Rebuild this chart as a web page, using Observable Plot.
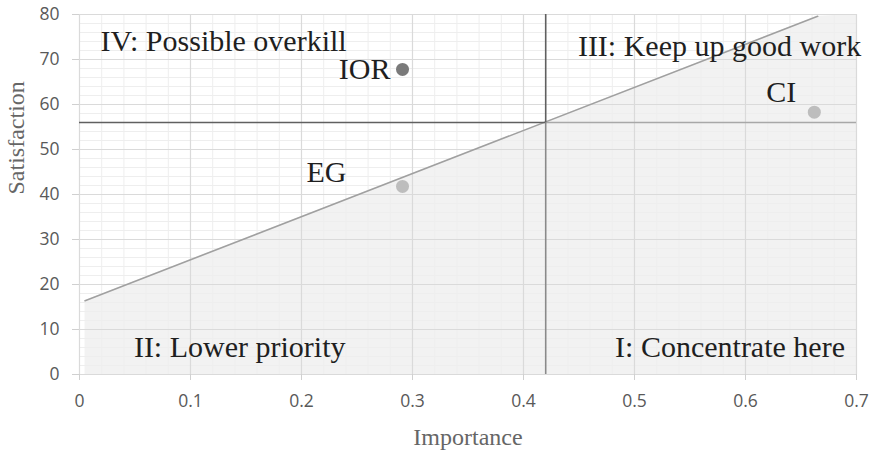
<!DOCTYPE html>
<html>
<head>
<meta charset="utf-8">
<script src="https://cdn.jsdelivr.net/npm/d3@7"></script>
<script src="https://cdn.jsdelivr.net/npm/@observablehq/plot@0.6"></script>
<style>
  html, body { margin: 0; padding: 0; background: #fff; }
  #chart svg { display: block; }
</style>
</head>
<body>
<div id="chart"></div>
<script>
// Data
const categories = ["IOR", "EG", "CI"];
const importance = [0.291, 0.291, 0.662];
const satisfaction = [67.8, 41.8, 58.3];
const pointColors = ["#7a7a7a", "#bdbdbd", "#bdbdbd"];
const labelDx = [-12, -76, -33];
const labelDy = [0, -14, -20];

const diagX = [0.005, 0.665];
const diagY = [16.4, 79.6];
const shadeX = [0.005, 0.665, 0.7];
const shadeY = [16.4, 79.6, 80];

const cutImportance = 0.42;
const cutSatisfaction = 56;

const quadrantLabels = ["IV: Possible overkill", "III: Keep up good work", "II: Lower priority", "I: Concentrate here"];
const quadrantX = [0.019, 0.449, 0.049, 0.4825];
const quadrantY = [74, 73, 6.1, 6.1];

const xTicks = [0, 0.1, 0.2, 0.3, 0.4, 0.5, 0.6, 0.7];
const xTickLabels = ["0", "0.1", "0.2", "0.3", "0.4", "0.5", "0.6", "0.7"];
const yTicks = [0, 10, 20, 30, 40, 50, 60, 70, 80];

const points = categories.map((c, i) => ({name: c, x: importance[i], y: satisfaction[i], color: pointColors[i], dx: labelDx[i], dy: labelDy[i]}));
const diag = diagX.map((x, i) => ({x, y: diagY[i]}));
const shade = shadeX.map((x, i) => ({x, y: shadeY[i]}));
const quads = quadrantLabels.map((t, i) => ({t, x: quadrantX[i], y: quadrantY[i]}));

const serif = "'Liberation Serif', 'Times New Roman', serif";
const minorX = d3.range(0, 0.7001, 0.02);
const minorY = d3.range(0, 80.001, 2);

const chart = Plot.plot({
  width: 876,
  height: 454,
  marginLeft: 79,
  marginRight: 20,
  marginTop: 14,
  marginBottom: 80,
  style: {fontFamily: "'Open Sans', sans-serif", fontSize: "17.5px", color: "#595959", background: "#fff"},
  x: {domain: [0, 0.7]},
  y: {domain: [0, 80]},
  marks: [
    Plot.areaY(shade, {x: "x", y: "y", fill: "#f2f2f2"}),
    Plot.ruleX(minorX, {stroke: "#eeeeee", strokeWidth: 1}),
    Plot.ruleY(minorY, {stroke: "#eeeeee", strokeWidth: 1}),
    Plot.ruleX(xTicks, {stroke: "#dadada", strokeWidth: 1.2}),
    Plot.ruleY(yTicks, {stroke: "#dadada", strokeWidth: 1.2}),
    Plot.axisX({ticks: xTicks, tickFormat: (d) => xTickLabels[xTicks.indexOf(d)], tickSize: 6, tickPadding: 14, stroke: "#d0d0d0", label: null, fill: "#595959"}),
    Plot.axisY({ticks: yTicks, tickSize: 7, tickPadding: 13, stroke: "#d0d0d0", label: null, fill: "#595959"}),
    Plot.line(diag, {x: "x", y: "y", stroke: "#a0a0a0", strokeWidth: 1.6}),
    Plot.ruleY([cutSatisfaction], {x1: cutImportance, x2: 0.7, stroke: "#a8a8a8", strokeWidth: 1.6}),
    Plot.ruleX([cutImportance], {y1: 0, y2: cutSatisfaction, stroke: "#8a8a8a", strokeWidth: 1.6}),
    Plot.ruleY([cutSatisfaction], {x1: 0, x2: cutImportance, stroke: "#606060", strokeWidth: 1.6}),
    Plot.ruleX([cutImportance], {y1: cutSatisfaction, y2: 80, stroke: "#606060", strokeWidth: 1.6}),
    Plot.dot(points, {x: "x", y: "y", r: 6.5, fill: "color", stroke: "none"}),
    ...points.map(p => Plot.text([p], {x: "x", y: "y", text: "name", dx: p.dx, dy: p.dy, textAnchor: p.dx < -20 ? "middle" : "end", fontFamily: serif, fontSize: 30, fill: "#1f1f1f"})),
    Plot.text(quads, {x: "x", y: "y", text: "t", textAnchor: "start", fontFamily: serif, fontSize: 30, fill: "#1f1f1f"}),
    Plot.text(["Importance"], {frameAnchor: "bottom", lineAnchor: "middle", dy: 63, fontFamily: serif, fontSize: 24, fill: "#666"}),
    Plot.text(["Satisfaction"], {frameAnchor: "left", lineAnchor: "middle", rotate: -90, dx: -63, fontFamily: serif, fontSize: 24, fill: "#666"})
  ]
});
document.getElementById("chart").appendChild(chart);
</script>
</body>
</html>
